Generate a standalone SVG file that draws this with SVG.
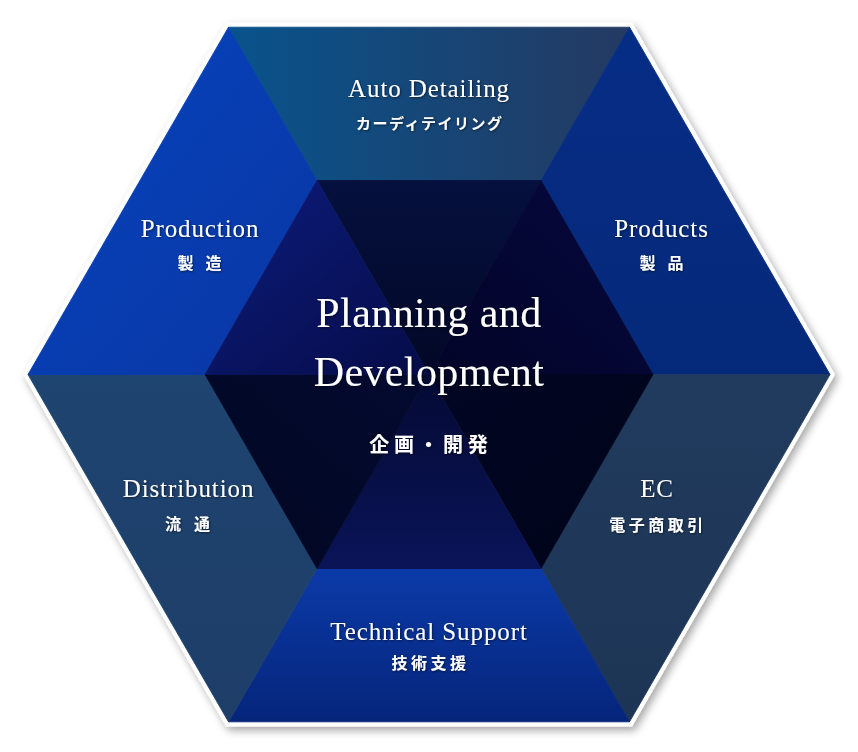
<svg xmlns="http://www.w3.org/2000/svg" width="858" height="752" viewBox="0 0 858 752">
  <style>
    .en { font-family: "Liberation Serif", "Times New Roman", serif; fill: #ffffff; text-anchor: middle; font-size: 25px; letter-spacing: 0.9px; }
    .ja { font-family: "Noto Sans CJK JP", "Noto Sans", sans-serif; fill: #ffffff; text-anchor: middle; font-weight: 700; font-size: 15px; }
    .big { font-size: 42px; letter-spacing: 0.4px; }
    .txt { filter: url(#tshadow); }
    polygon.seg { stroke-width: 0.9px; stroke-linejoin: round; }
  </style>
  <defs>
    <filter id="shadow" x="-10%" y="-10%" width="120%" height="120%">
      <feGaussianBlur in="SourceAlpha" stdDeviation="4"/>
      <feOffset dx="3" dy="4" result="b"/>
      <feComponentTransfer><feFuncA type="linear" slope="0.35"/></feComponentTransfer>
      <feMerge><feMergeNode/><feMergeNode in="SourceGraphic"/></feMerge>
    </filter>
    <filter id="tshadow" x="-10%" y="-20%" width="120%" height="140%">
      <feDropShadow dx="0.8" dy="0.8" stdDeviation="0.8" flood-color="#000010" flood-opacity="0.6"/>
    </filter>
    <linearGradient id="gTop" x1="0" y1="0" x2="1" y2="0">
      <stop offset="0" stop-color="#08538c"/>
      <stop offset="1" stop-color="#243a62"/>
    </linearGradient>
    <linearGradient id="gUL" x1="0" y1="0" x2="1" y2="1">
      <stop offset="0" stop-color="#0544bd"/>
      <stop offset="1" stop-color="#0a36a4"/>
    </linearGradient>
    <linearGradient id="gUR" x1="0" y1="0" x2="0" y2="1">
      <stop offset="0" stop-color="#062d86"/>
      <stop offset="1" stop-color="#05297a"/>
    </linearGradient>
    <linearGradient id="gLL" x1="0" y1="0" x2="0" y2="1">
      <stop offset="0" stop-color="#1e4470"/>
      <stop offset="1" stop-color="#1e3e68"/>
    </linearGradient>
    <linearGradient id="gLR" x1="0" y1="0" x2="0" y2="1">
      <stop offset="0" stop-color="#213b5e"/>
      <stop offset="1" stop-color="#1d3555"/>
    </linearGradient>
    <linearGradient id="gBot" x1="0" y1="0" x2="0" y2="1">
      <stop offset="0" stop-color="#0b3aa8"/>
      <stop offset="1" stop-color="#05257a"/>
    </linearGradient>
    <linearGradient id="iTop" x1="0" y1="0" x2="0" y2="1">
      <stop offset="0" stop-color="#05103e"/>
      <stop offset="1" stop-color="#020826"/>
    </linearGradient>
    <linearGradient id="iUL" x1="0" y1="0" x2="1" y2="1">
      <stop offset="0" stop-color="#0c1c7c"/>
      <stop offset="1" stop-color="#060c48"/>
    </linearGradient>
    <linearGradient id="iUR" x1="1" y1="0" x2="0" y2="1">
      <stop offset="0" stop-color="#06083e"/>
      <stop offset="1" stop-color="#020428"/>
    </linearGradient>
    <linearGradient id="iLR" x1="1" y1="1" x2="0" y2="0">
      <stop offset="0" stop-color="#000418"/>
      <stop offset="1" stop-color="#010624"/>
    </linearGradient>
    <linearGradient id="iBot" x1="0" y1="1" x2="0" y2="0">
      <stop offset="0" stop-color="#0a1458"/>
      <stop offset="1" stop-color="#040a34"/>
    </linearGradient>
    <linearGradient id="iLL" x1="0" y1="1" x2="1" y2="0">
      <stop offset="0" stop-color="#010720"/>
      <stop offset="1" stop-color="#030a30"/>
    </linearGradient>
  </defs>

  <g id="frame">
    <polygon points="835,374.5 632,22.5 226,22.5 23,374.5 226,726.5 632,726.5" fill="#ffffff" filter="url(#shadow)"/>
  </g>

  <g id="auto-detailing">
    <polygon class="seg" points="228.5,27.2 629.5,27.2 541,180.5 317,180.5" fill="url(#gTop)" stroke="url(#gTop)"/>
    <text class="en txt" x="429" y="97">Auto Detailing</text>
    <text class="ja txt" x="429.8" y="129" style="letter-spacing:1.5px">カーディテイリング</text>
  </g>

  <g id="products">
    <polygon class="seg" points="629.5,27.2 830,374.5 653,374.5 541,180.5" fill="url(#gUR)" stroke="url(#gUR)"/>
    <text class="en txt" x="661.5" y="237">Products</text>
    <text class="ja txt" x="647.5 675.5" y="269" style="font-size:16px">製品</text>
  </g>

  <g id="ec">
    <polygon class="seg" points="830,374.5 629.5,721.8 541,568.5 653,374.5" fill="url(#gLR)" stroke="url(#gLR)"/>
    <text class="en txt" x="657" y="497">EC</text>
    <text class="ja txt" x="658" y="531" style="font-size:16px;letter-spacing:3.5px">電子商取引</text>
  </g>

  <g id="technical-support">
    <polygon class="seg" points="629.5,721.8 228.5,721.8 317,568.5 541,568.5" fill="url(#gBot)" stroke="url(#gBot)"/>
    <text class="en txt" x="429" y="640">Technical Support</text>
    <text class="ja txt" x="430.5" y="669" style="font-size:16px;letter-spacing:3.5px">技術支援</text>
  </g>

  <g id="distribution">
    <polygon class="seg" points="228.5,721.8 28,374.5 205,374.5 317,568.5" fill="url(#gLL)" stroke="url(#gLL)"/>
    <text class="en txt" x="188.5" y="497">Distribution</text>
    <text class="ja txt" x="173 202" y="530" style="font-size:16px">流通</text>
  </g>

  <g id="production">
    <polygon class="seg" points="28,374.5 228.5,27.2 317,180.5 205,374.5" fill="url(#gUL)" stroke="url(#gUL)"/>
    <text class="en txt" x="200" y="237">Production</text>
    <text class="ja txt" x="185.5 213.5" y="269" style="font-size:16px">製造</text>
  </g>

  <g id="planning-and-development">
    <polygon class="seg" points="317,180.5 541,180.5 429,374.5" fill="url(#iTop)" stroke="url(#iTop)"/>
    <polygon class="seg" points="541,180.5 653,374.5 429,374.5" fill="url(#iUR)" stroke="url(#iUR)"/>
    <polygon class="seg" points="653,374.5 541,568.5 429,374.5" fill="url(#iLR)" stroke="url(#iLR)"/>
    <polygon class="seg" points="541,568.5 317,568.5 429,374.5" fill="url(#iBot)" stroke="url(#iBot)"/>
    <polygon class="seg" points="317,568.5 205,374.5 429,374.5" fill="url(#iLL)" stroke="url(#iLL)"/>
    <polygon class="seg" points="205,374.5 317,180.5 429,374.5" fill="url(#iUL)" stroke="url(#iUL)"/>
    <text class="en big txt" x="429" y="327">Planning and</text>
    <text class="en big txt" x="429" y="386">Development</text>
    <text class="ja txt" x="430.8" y="452" style="font-size:20px;letter-spacing:4.6px">企画・開発</text>
  </g>
</svg>
